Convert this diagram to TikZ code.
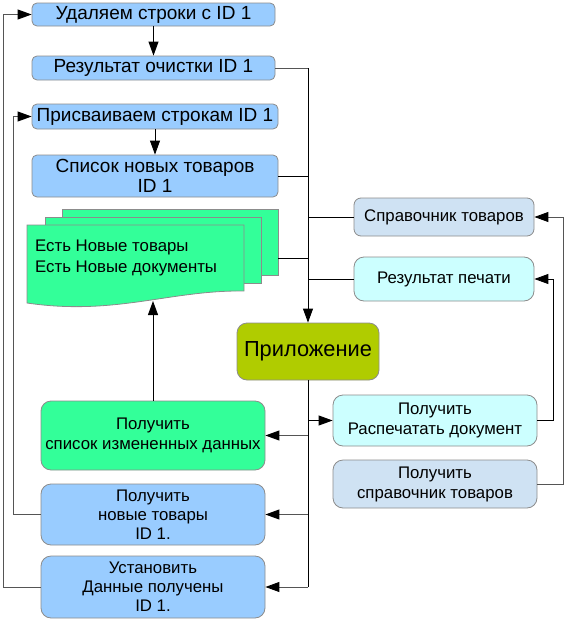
\documentclass[tikz,border=0pt]{standalone}
\usepackage{fontspec}
\setmainfont{Liberation Sans}
\usetikzlibrary{arrows.meta}
\definecolor{bblue}{HTML}{99CCFF}
\definecolor{bgreen}{HTML}{33FF99}
\definecolor{bolive}{HTML}{B0CC00}
\definecolor{bgray}{HTML}{CFE2F3}
\definecolor{bcyan}{HTML}{CCFFFF}
\definecolor{bord}{HTML}{8C8C8C}
\definecolor{lgray}{HTML}{555555}
\tikzset{
  box/.style={draw=bord, line width=0.8pt, rounded corners=5pt, inner sep=0pt, align=center, font=\fontsize{19}{20}\selectfont},
  bigbox/.style={box, rounded corners=10pt, font=\fontsize{16.8}{20}\selectfont},
  conn/.style={line width=0.9pt, draw=black},
  gconn/.style={line width=0.9pt, draw=lgray},
  arr/.style={-{Triangle[length=14pt,width=10pt,color=black]}},
  sheet/.style={draw=bord, line width=0.8pt, fill=bgreen},
}
\begin{document}
\begin{tikzpicture}[x=1pt,y=-1pt]
\useasboundingbox (0,0) rectangle (569,621);
% top boxes
\node[box, fill=bblue, minimum width=243pt, minimum height=23pt] (b1) at (153.5,14.5) {Удаляем строки с ID 1};
\node[box, fill=bblue, minimum width=243pt, minimum height=24pt] (b2) at (153.5,68) {Результат очистки ID 1};
\node[box, fill=bblue, minimum width=246pt, minimum height=25pt] (b3) at (155,116.5) {Присваиваем строкам ID 1};
\node[box, fill=bblue, minimum width=246pt, minimum height=42pt] (b4) at (155,176) {Список новых товаров\\ID 1};
% document stack
\draw[sheet] (62,209) rectangle (278,275);
\draw[sheet] (45,217) rectangle (261,283);
\draw[sheet] (27,225) -- (244,225) -- (244,291) .. controls (170,290) and (115,316) .. (27,303) -- cycle;
\node[inner sep=0pt, align=left, anchor=west, font=\fontsize{16.8}{21}\selectfont] (doc) at (35,258) {Есть Новые товары\\Есть Новые документы};
\coordinate (docbot) at (153,301);
\coordinate (docright) at (278,258);
% application
\node[bigbox, fill=bolive, minimum width=142pt, minimum height=57pt, font=\fontsize{21.8}{24}\selectfont] (app) at (308,351.5) {Приложение};
% right boxes
\node[bigbox, rounded corners=7pt, fill=bgray, minimum width=180pt, minimum height=38pt] (sprav) at (444,217) {Справочник товаров};
\node[bigbox, fill=bcyan, minimum width=180pt, minimum height=44pt] (res) at (444,279) {Результат печати};
\node[bigbox, fill=bcyan, minimum width=204pt, minimum height=51pt] (b12) at (435,420.5) {Получить\\Распечатать документ};
\node[bigbox, fill=bgray, minimum width=204pt, minimum height=48pt] (b13) at (435,484) {Получить\\справочник товаров};
% bottom left boxes
\node[bigbox, fill=bgreen, minimum width=224pt, minimum height=69pt] (b9) at (153,435.5) {Получить\\список измененных данных};
\node[bigbox, fill=bblue, minimum width=224pt, minimum height=61pt, font=\fontsize{16.8}{19}\selectfont] (b10) at (153,514.5) {Получить\\новые товары\\ID 1.};
\node[bigbox, fill=bblue, minimum width=224pt, minimum height=62pt, font=\fontsize{16.8}{19}\selectfont] (b11) at (153,587) {Установить\\Данные получены\\ID 1.};
% connectors top
\draw[conn, arr] (b1.south) -- (b2.north);
\draw[conn, arr] (b3.south -| b4.north) -- (b4.north);
\draw[gconn] (b2.east) -- (b2.east -| app.north);
\draw[conn, arr] (b2.east -| app.north) -- (app.north);
\draw[conn] (b4.east) -- (b4.east -| app.north);
\draw[conn] (docright) -- (docright -| app.north);
\draw[conn] (sprav.west) -- (sprav.west -| app.north);
\draw[conn] (res.west) -- (res.west -| app.north);
% from application
\coordinate (trunk) at (app.south |- b11.east);
\draw[conn] (app.south) -- (trunk);
\draw[conn, arr] (app.south |- b12.west) -- (b12.west);
\draw[gconn, arr] (app.south |- b9.east) -- (b9.east);
\draw[gconn, arr] (app.south |- b10.east) -- (b10.east);
\draw[gconn, arr] (trunk) -- (b11.east);
\draw[conn, arr] (b9.north) -- (docbot);
% left loops
\draw[gconn, arr] (b10.west) -- ++(-27,0) |- (b3.west);
\draw[gconn, arr] (b11.west) -- ++(-37,0) |- (b1.west);
% right loops
\draw[conn, arr] (b12.east) -- ++(16,0) |- (res.east);
\draw[gconn, arr] (b13.east) -- ++(26,0) |- (sprav.east);
\end{tikzpicture}
\end{document}
